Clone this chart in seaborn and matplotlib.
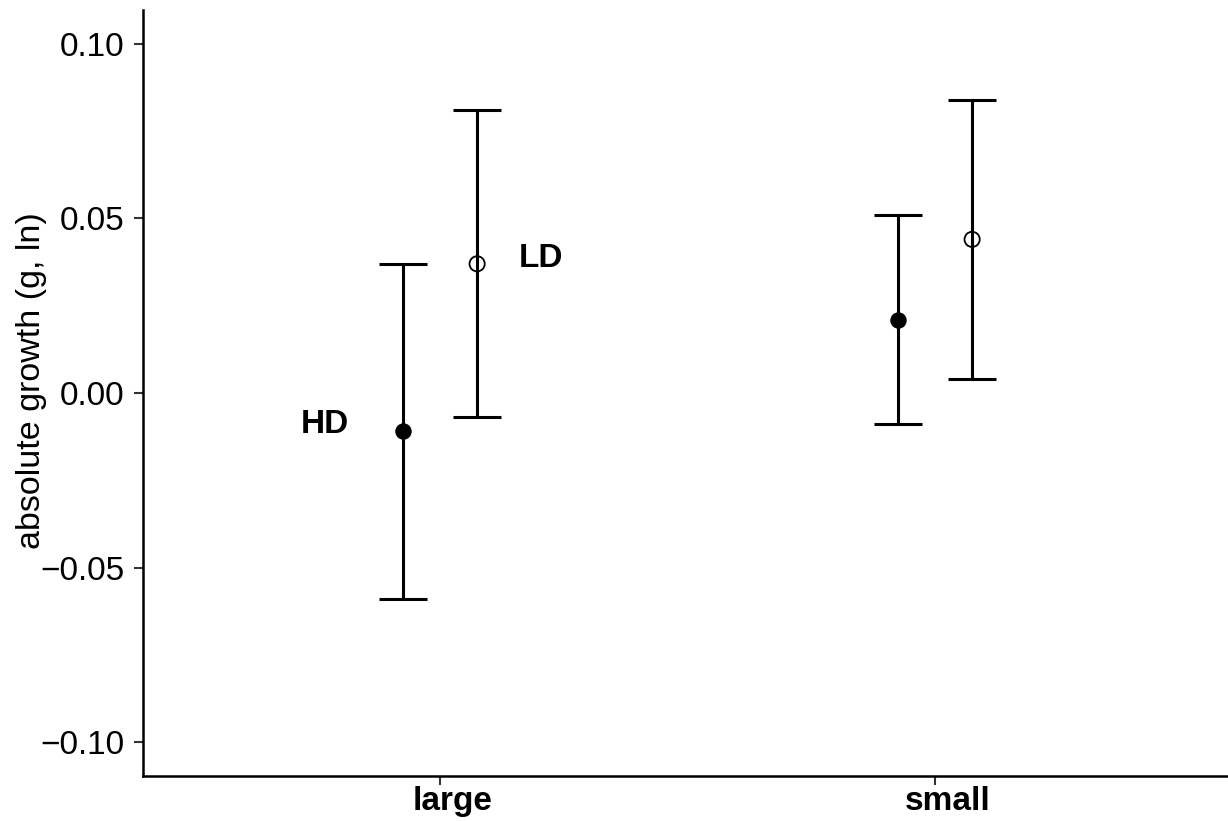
import numpy as np
import pandas as pd
import matplotlib
matplotlib.use("Agg")
import matplotlib.pyplot as plt
import matplotlib.transforms as mtransforms
import seaborn as sns

# Group means and interval bounds for absolute growth
sizes = ["large", "small"]
densities = ["HD", "LD"]
mean_hd = [-0.011, 0.021]
lower_hd = [-0.059, -0.009]
upper_hd = [0.037, 0.051]
mean_ld = [0.037, 0.044]
lower_ld = [-0.007, 0.004]
upper_ld = [0.081, 0.084]

rows = []
for i, s in enumerate(sizes):
    rows.append(dict(size=s, density="HD", pos=i, mean=mean_hd[i], lo=lower_hd[i], hi=upper_hd[i]))
    rows.append(dict(size=s, density="LD", pos=i, mean=mean_ld[i], lo=lower_ld[i], hi=upper_ld[i]))
df = pd.DataFrame(rows)

dodge = {"HD": -0.075, "LD": 0.075}
df["x"] = df["pos"] + df["density"].map(dodge)

sns.set_theme(style="ticks")
plt.rcParams["font.family"] = ["Liberation Sans", "DejaVu Sans"]
plt.rcParams["text.color"] = "black"
plt.rcParams["axes.labelcolor"] = "black"
plt.rcParams["xtick.color"] = "black"
plt.rcParams["ytick.color"] = "black"

fig = plt.figure(figsize=(12.28, 8.21), dpi=100)
ax = fig.add_axes([143 / 1228, 45 / 821, (1232 - 143) / 1228, 766 / 821])

# Interval bars
ax.errorbar(df["x"], df["mean"],
            yerr=[df["mean"] - df["lo"], df["hi"] - df["mean"]],
            fmt="none", ecolor="black", elinewidth=2.2, capsize=17, capthick=2.2, zorder=2)

# Points: filled for HD, open for LD
hd = df[df["density"] == "HD"]
ld = df[df["density"] == "LD"]
sns.scatterplot(data=hd, x="x", y="mean", ax=ax, s=140, color="black",
                edgecolor="black", linewidth=0, zorder=3, legend=False)
ax.scatter(ld["x"], ld["mean"], s=120, facecolors="none", edgecolors="black",
           linewidths=1.3, zorder=3)

# Direct labels for density groups
ax.text(-0.233, -0.0089, "HD", ha="center", va="center", fontsize=24, fontweight="bold")
ax.text(0.205, 0.0384, "LD", ha="center", va="center", fontsize=24, fontweight="bold")

ax.set_xlim(-0.6, 1.6)
ax.set_ylim(-0.1097, 0.1097)
ax.set_xticks(range(len(sizes)))
ax.set_xticklabels(sizes, fontsize=24, fontweight="bold")
yt = [-0.10, -0.05, 0.00, 0.05, 0.10]
ax.set_yticks(yt)
ax.set_yticklabels([f"{v:.2f}".replace("-", "\u2212") for v in yt], fontsize=24)
ax.set_xlabel("")
ax.set_ylabel("absolute growth (g, ln)", fontsize=24.5)
ax.yaxis.set_label_coords(-0.0885, 0.5157)

for side in ["top", "right"]:
    ax.spines[side].set_visible(False)
for side in ["left", "bottom"]:
    ax.spines[side].set_linewidth(1.8)
    ax.spines[side].set_color("black")
ax.tick_params(axis="both", length=6.5, width=1.5, color="#333333")
ax.tick_params(axis="y", pad=7)
ax.tick_params(axis="x", pad=1)

# Category labels sit slightly right of their ticks
shift = mtransforms.ScaledTranslation(0.13, 0, fig.dpi_scale_trans)
for tick in ax.xaxis.get_major_ticks():
    tick.label1.set_transform(tick.label1.get_transform() + shift)

fig.savefig("out.png", dpi=100)
